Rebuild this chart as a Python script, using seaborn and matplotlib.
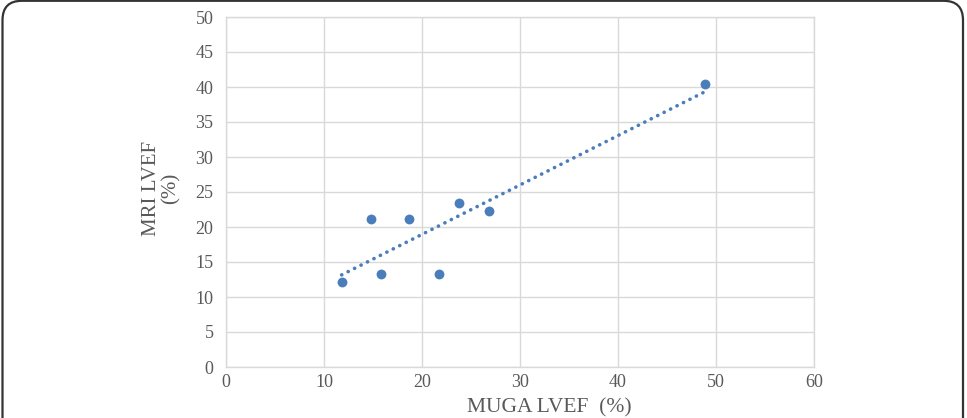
import matplotlib
matplotlib.use("Agg")
import matplotlib.pyplot as plt
from matplotlib.patches import FancyBboxPatch
import seaborn as sns
import pandas as pd

muga_lvef = [11.8, 14.8, 15.8, 18.7, 21.7, 23.8, 26.8, 48.9]
mri_lvef = [12.2, 21.2, 13.3, 21.2, 13.3, 23.4, 22.3, 40.4]
x_ticks = [0, 10, 20, 30, 40, 50, 60]
y_ticks = [0, 5, 10, 15, 20, 25, 30, 35, 40, 45, 50]

df = pd.DataFrame({"MUGA": muga_lvef, "MRI": mri_lvef})

sns.set_theme(style="white")
plt.rcParams["font.family"] = ["Liberation Serif", "DejaVu Serif"]

W, H = 967, 418
fig = plt.figure(figsize=(W / 100, H / 100), dpi=100)
ax = fig.add_axes([226 / W, (H - 367) / H, (814 - 226) / W, (367 - 17) / H])

color = "#4a7ebb"
grid_c = "#d9d9d9"
text_c = "#595959"

sns.regplot(data=df, x="MUGA", y="MRI", ax=ax, ci=None, color=color,
            scatter_kws=dict(s=50, linewidths=0, alpha=1, zorder=3),
            line_kws=dict(linestyle=(0, (0.05, 1.95)), linewidth=2.6,
                          dash_capstyle="round", zorder=2))

ax.set_xlim(0, 60)
ax.set_ylim(0, 50)
ax.set_xticks(x_ticks)
ax.set_yticks(y_ticks)
ax.grid(True, color=grid_c, linewidth=1)
ax.set_axisbelow(True)
for s in ax.spines.values():
    s.set_color(grid_c)
    s.set_linewidth(1)
ax.tick_params(axis="both", length=0, labelsize=13, colors=text_c)
ax.tick_params(axis="y", pad=9)
ax.tick_params(axis="x", pad=5)

ax.set_xlabel("MUGA LVEF  (%)", fontsize=15.5, color=text_c, va="center")
ax.set_ylabel("MRI LVEF\n(%)", fontsize=15, color=text_c, linespacing=1.05, va="center")
ax.xaxis.set_label_coords(0.55, -0.117)
ax.yaxis.set_label_coords(-0.11, 0.51)

# outer rounded frame (open at bottom)
frame = FancyBboxPatch((2.5 / W, -0.2), (963 - 2.5) / W, 1.2 - 0.8 / H,
                       boxstyle="round,pad=0,rounding_size=0.02",
                       transform=fig.transFigure, fill=False,
                       edgecolor="#333333", linewidth=1.6, clip_on=False,
                       mutation_aspect=W / H)
fig.patches.append(frame)

fig.savefig("out.png", dpi=100)
